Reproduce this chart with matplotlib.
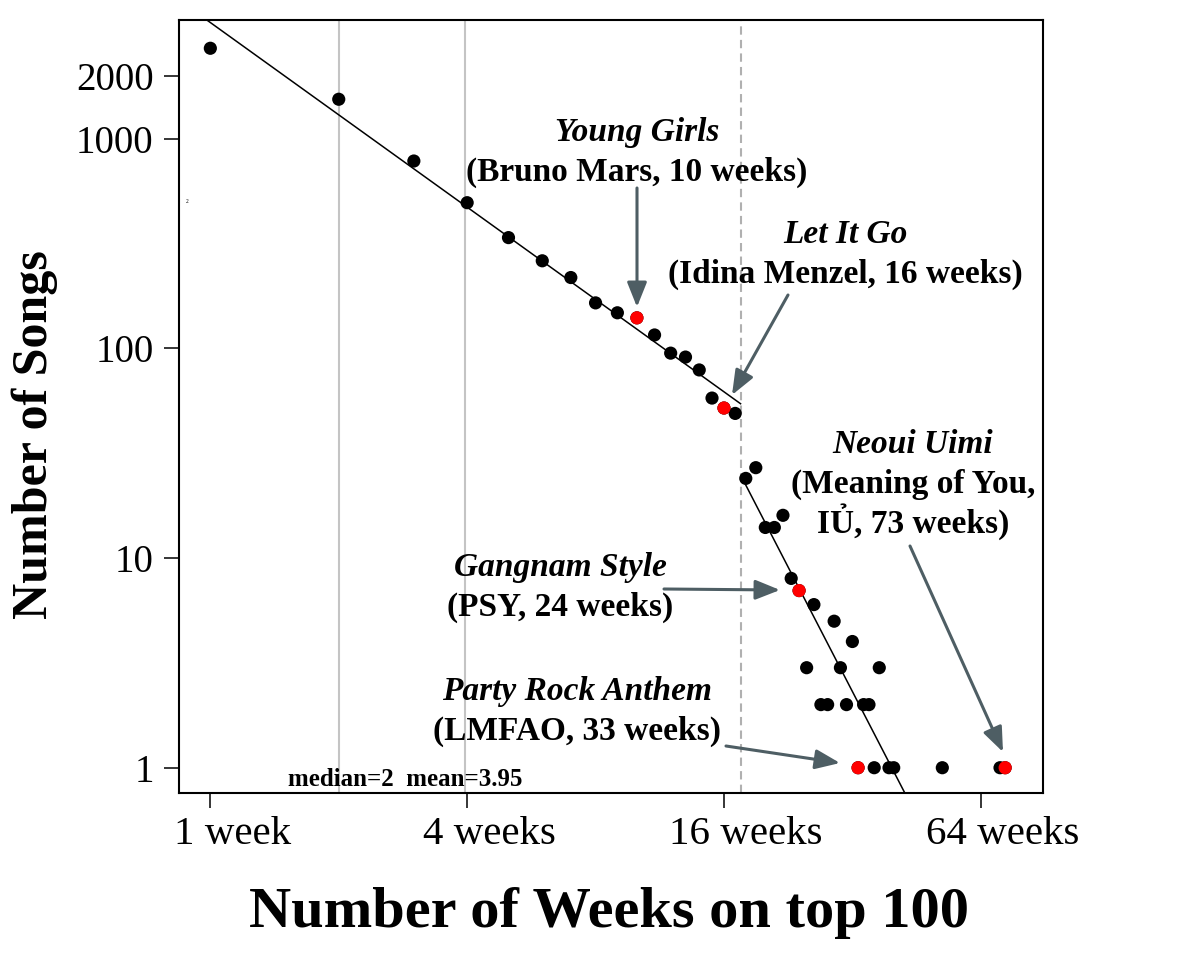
import numpy as np
import matplotlib
matplotlib.use('Agg')
import matplotlib.pyplot as plt
import matplotlib.transforms as mtransforms

# ---------------- data ----------------
weeks = [1, 2, 3, 4, 5, 6, 7, 8, 9, 10, 11, 12, 13, 14, 15, 16, 17,
         18, 19, 20, 21, 22, 23, 24, 25, 26, 27, 28, 29, 30, 31, 32, 33,
         34, 35, 36, 37, 39, 40, 52, 71, 73]
songs = [2705, 1545, 784, 496, 338, 262, 218, 165, 148, 140, 116, 95, 91, 79, 58, 52, 49,
         24, 27, 14, 14, 16, 8, 7, 3, 6, 2, 2, 5, 3, 2, 4, 1,
         2, 2, 1, 3, 1, 1, 1, 1, 1]
highlight_weeks = [10, 16, 24, 33, 73]

median_weeks = 2
mean_weeks = 3.95
break_week = 17.5

# power-law fits: songs = coef * (weeks / ref) ** expo
fit1_ref, fit1_coef, fit1_expo = 1.0, 3589.0, -1.463
fit2_ref, fit2_coef, fit2_expo = 18.0, 22.3, -3.94

xtick_vals = [1, 4, 16, 64]
xtick_labels = ['1 week', '4 weeks', '16 weeks', '64 weeks']
ytick_vals = [1, 10, 100, 1000, 2000]
ytick_labels = ['1', '10', '100', '1000', '2000']

annotations = [
    # (title, detail lines, text center x px, first baseline y px, arrow start px, arrow tip px)
    ('Young Girls', ['(Bruno Mars, 10 weeks)'], 637, 141, (637, 188), (637, 307)),
    ('Let It Go', ['(Idina Menzel, 16 weeks)'], 845, 243, (788, 295), (732, 395)),
    ('Neoui Uimi', ['(Meaning of You,', 'IỦ, 73 weeks)'], 913, 453, (910, 546), (1003, 752)),
    ('Gangnam Style', ['(PSY, 24 weeks)'], 560, 576, (664, 589), (780, 590)),
    ('Party Rock Anthem', ['(LMFAO, 33 weeks)'], 577, 700, (726, 746), (840, 763)),
]

# ---------------- figure ----------------
W, H = 1181, 956
fig = plt.figure(figsize=(W / 100, H / 100), dpi=100)
plt.rcParams['font.family'] = ['Liberation Serif', 'DejaVu Serif']

def fx(x):
    return x / W

def fy(y):
    return 1 - y / H

ax = fig.add_axes([fx(178.7), fy(792.7), fx(1042.7) - fx(178.7), fy(20) - fy(792.7)])
ax.set_xscale('log', base=2)
ax.set_yscale('log')
ax.set_xlim(0.843, 89.4)
ax.set_ylim(0.760, 3690)

ax.axvline(median_weeks, color='#c4c4c4', lw=1.5, zorder=0)
ax.axvline(mean_weeks, color='#c4c4c4', lw=1.5, zorder=0)
ax.axvline(break_week, color='#b0b0b0', lw=1.5, ls=(0, (4, 2.5)), zorder=0)

# fit lines
x1 = np.array([0.5, break_week])
ax.plot(x1, fit1_coef * (x1 / fit1_ref) ** fit1_expo, color='black', lw=1.1, zorder=2)
x2 = np.array([fit2_ref, 120.0])
ax.plot(x2, fit2_coef * (x2 / fit2_ref) ** fit2_expo, color='black', lw=1.1, zorder=2)

w_arr = np.array(weeks)
s_arr = np.array(songs)
ax.scatter(w_arr, s_arr, s=90, color='black', edgecolors='none', zorder=3)
mask = np.isin(w_arr, highlight_weeks)
ax.scatter(w_arr[mask], s_arr[mask], s=90, color='#ff0000', edgecolors='none', zorder=4)

ax.set_xticks(xtick_vals)
ax.set_xticklabels(xtick_labels)
ax.set_yticks(ytick_vals)
ax.set_yticklabels(ytick_labels)
ax.minorticks_off()
ax.tick_params(axis='both', direction='out', length=11, width=1.1, colors='black')
ax.tick_params(axis='x', pad=6, labelsize=29.5)
ax.tick_params(axis='y', pad=7, labelsize=28)
for sp in ax.spines.values():
    sp.set_linewidth(1.5)

# x tick labels sit slightly right of their ticks in the reference
shift = mtransforms.ScaledTranslation(22 / 100, 0, fig.dpi_scale_trans)
for lab in ax.get_xticklabels():
    lab.set_transform(lab.get_transform() + shift)

# annotations
arrow_color = '#4e5e64'
for title, lines, cx, by, a0, a1 in annotations:
    fig.text(fx(cx), fy(by), title, ha='center', va='baseline', fontsize=24,
             fontweight='bold', fontstyle='italic')
    for i, ln in enumerate(lines):
        fig.text(fx(cx), fy(by + 40 * (i + 1)), ln, ha='center', va='baseline',
                 fontsize=24, fontweight='bold')
    ax.annotate('', xy=(fx(a1[0]), fy(a1[1])), xytext=(fx(a0[0]), fy(a0[1])),
                xycoords='figure fraction', textcoords='figure fraction',
                arrowprops=dict(arrowstyle='-|>,head_length=0.75,head_width=0.3',
                                mutation_scale=20, color=arrow_color, lw=2.2,
                                shrinkA=0, shrinkB=0))

fig.text(fx(405), fy(786), 'median=%g  mean=%.2f' % (median_weeks, mean_weeks),
         ha='center', va='baseline', fontsize=18, fontweight='bold')
fig.text(fx(187), fy(203), '2', ha='center', va='baseline', fontsize=4)

fig.text(fx(609), fy(927), 'Number of Weeks on top 100', ha='center', va='baseline',
         fontsize=42, fontweight='bold')
fig.text(fx(35), fy(435), 'Number of Songs', ha='center', va='center', rotation=90,
         fontsize=36, fontweight='bold')

fig.savefig('out.png', dpi=100)
